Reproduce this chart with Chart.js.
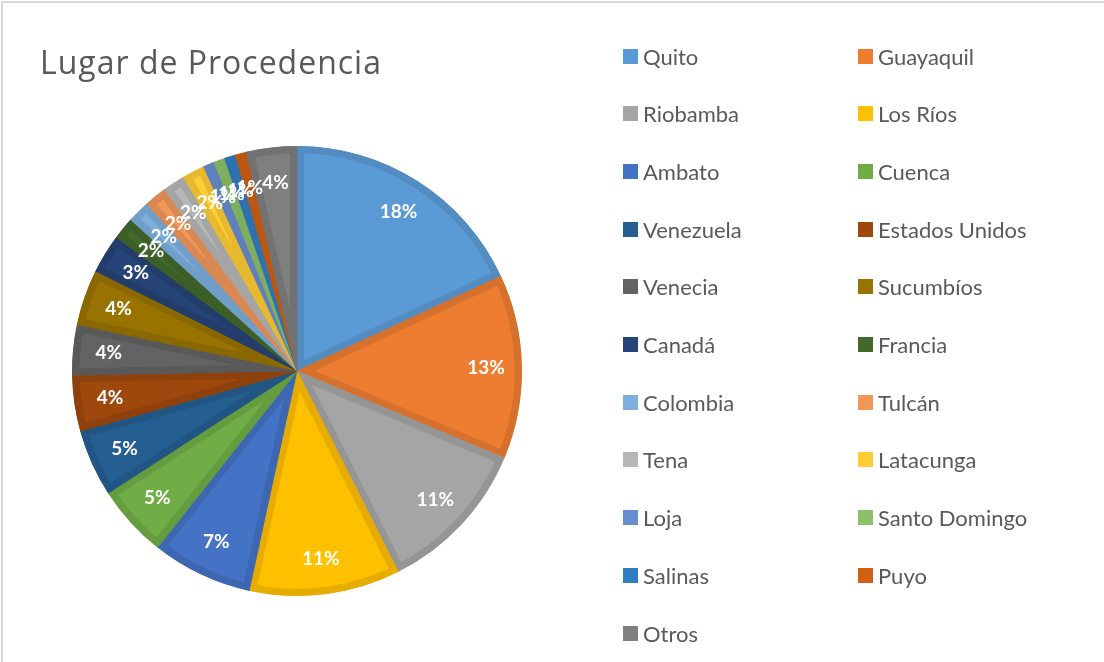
<!DOCTYPE html>
<html>
<head>
<meta charset="utf-8">
<script src="https://cdn.jsdelivr.net/npm/chart.js@4"></script>
<style>
  html, body { margin: 0; padding: 0; background: #fff; overflow: hidden; }
  #wrap { position: relative; width: 1104px; height: 662px; }
  #frame { position: absolute; left: 1px; top: 1px; width: 1120px; height: 680px; border: 2px solid #d9d9d9; }
  #title { position: absolute; left: 40px; top: 40px; font: 400 32px "Open Sans", Lato, sans-serif; letter-spacing: 1px; color: #595959; line-height: 44px; white-space: nowrap; }
  #legend { position: absolute; left: 0; top: 0; }
  .item { position: absolute; height: 24px; display: flex; align-items: center; font: 22px Lato, "Open Sans", sans-serif; color: #595959; white-space: nowrap; }
  .item span.box { width: 15px; height: 15px; margin-right: 5px; display: inline-block; }
  canvas { position: absolute; left: 0; top: 0; }
</style>
</head>
<body>
<div id="wrap">
  <div id="frame"></div>
  <canvas id="pie-chart" width="1104" height="662"></canvas>
  <div id="title">Lugar de Procedencia</div>
  <div id="legend"></div>
</div>
<script>
const places = ["Quito", "Guayaquil", "Riobamba", "Los Ríos", "Ambato", "Cuenca", "Venezuela", "Estados Unidos",
  "Venecia", "Sucumbíos", "Canadá", "Francia", "Colombia", "Tulcán", "Tena", "Latacunga", "Loja",
  "Santo Domingo", "Salinas", "Puyo", "Otros"];
const counts = [45, 33, 28, 27, 18, 13, 12, 10, 9, 10, 7, 4, 4, 4, 4, 4, 2, 2, 2, 2, 9];
const sliceColors = ["#5b9bd5", "#ed7d31", "#a5a5a5", "#ffc000", "#4472c4", "#70ad47", "#255e91", "#9e480e",
  "#636363", "#997300", "#264478", "#43682b", "#7cafdd", "#f1975a", "#b7b7b7", "#ffcd33", "#698ed0",
  "#8cc168", "#327dc2", "#d26012", "#7f7f7f"];

// darker shade for the inner border of each slice
function shade(hex, f) {
  const n = parseInt(hex.slice(1), 16);
  const r = Math.round(((n >> 16) & 255) * f), g = Math.round(((n >> 8) & 255) * f), b = Math.round((n & 255) * f);
  return "rgb(" + r + "," + g + "," + b + ")";
}
const borderColors = sliceColors.map(c => shade(c, 0.9));

// percentage labels inside the slices
const pctLabels = {
  id: "pctLabels",
  afterDatasetsDraw(chart) {
    const ctx = chart.ctx;
    const data = chart.data.datasets[0].data;
    const total = data.reduce((a, b) => a + b, 0);
    ctx.save();
    ctx.fillStyle = "#fff";
    ctx.font = "bold 19px Lato, 'Open Sans', sans-serif";
    ctx.textAlign = "center";
    ctx.textBaseline = "middle";
    chart.getDatasetMeta(0).data.forEach((arc, i) => {
      const mid = (arc.startAngle + arc.endAngle) / 2;
      const r = arc.outerRadius * 0.84;
      const x = arc.x + Math.cos(mid) * r;
      const y = arc.y + Math.sin(mid) * r;
      ctx.fillText(Math.round(data[i] / total * 100) + "%", x, y);
    });
    ctx.restore();
  }
};

const pieChart = document.querySelector("#pie-chart").getContext("2d");
const chart = new Chart(pieChart, {
  type: "pie",
  data: {
    labels: places,
    datasets: [{
      data: counts,
      backgroundColor: sliceColors,
      borderColor: borderColors,
      borderWidth: 7,
      borderAlign: "inner"
    }]
  },
  options: {
    responsive: false,
    animation: false,
    radius: 225,
    layout: { padding: { left: 0, right: 510, top: 80, bottom: 0 } },
    plugins: {
      legend: { display: false },
      tooltip: { enabled: false },
      title: { display: false }
    }
  },
  plugins: [pctLabels]
});

// legend laid out row by row in two columns
const legendBox = document.querySelector("#legend");
const items = Chart.overrides.pie.plugins.legend.labels.generateLabels(chart);
items.forEach((it, i) => {
  const row = Math.floor(i / 2), col = i % 2;
  const div = document.createElement("div");
  div.className = "item";
  div.style.left = (col ? 858 : 623) + "px";
  div.style.top = (56 + row * 57.7 - 12) + "px";
  const box = document.createElement("span");
  box.className = "box";
  box.style.background = sliceColors[it.index];
  div.appendChild(box);
  div.appendChild(document.createTextNode(it.text));
  legendBox.appendChild(div);
});
</script>
</body>
</html>
